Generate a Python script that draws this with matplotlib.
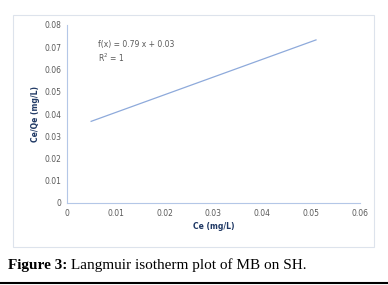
import matplotlib.pyplot as plt
from matplotlib.patches import Rectangle

# data
ce = [0.005, 0.051]
ce_qe = [0.0367, 0.0733]
x_ticks = [0, 0.01, 0.02, 0.03, 0.04, 0.05, 0.06]
y_ticks = [0, 0.01, 0.02, 0.03, 0.04, 0.05, 0.06, 0.07, 0.08]
x_tick_labels = ['0', '0.01', '0.02', '0.03', '0.04', '0.05', '0.06']
y_tick_labels = ['0', '0.01', '0.02', '0.03', '0.04', '0.05', '0.06', '0.07', '0.08']

W, H = 388, 285
fig = plt.figure(figsize=(W / 100, H / 100), dpi=100)
fig.patch.set_facecolor('white')

# chart frame (behind the axes)
frame = Rectangle((13 / W, 1 - 247 / H), 361 / W, 232 / H,
                  transform=fig.transFigure, facecolor='none',
                  edgecolor='#dde3ec', linewidth=0.8, zorder=-5)
fig.add_artist(frame)

ax = fig.add_axes([66.7 / W, 1 - 203 / H, 293.3 / W, 178 / H])
ax.set_facecolor('none')
ax.plot(ce, ce_qe, color='#8eaadb', linewidth=0.9)

ax.set_xlim(0, 0.06)
ax.set_ylim(0, 0.08)
ax.set_xticks(x_ticks)
ax.set_xticklabels(x_tick_labels)
ax.set_yticks(y_ticks)
ax.set_yticklabels(y_tick_labels)
ax.tick_params(length=0, labelsize=5.5, labelcolor='#595959', pad=4)

for s in ['top', 'right']:
    ax.spines[s].set_visible(False)
for s in ['left', 'bottom']:
    ax.spines[s].set_color('#b4c7e7')
    ax.spines[s].set_linewidth(0.8)

ax.set_xlabel('Ce (mg/L)', fontsize=5.5, color='#1f3864', fontweight='bold', labelpad=3)
ax.set_ylabel('Ce/Qe (mg/L)', fontsize=5.5, color='#1f3864', fontweight='bold', labelpad=3)

ax.text(0.0065, 0.0679, 'f(x) = 0.79 x + 0.03\nR$^2$ = 1', fontsize=5.5,
        color='#595959', va='center', linespacing=1.3)

cap1 = fig.text(8 / W, 1 - 265 / H, 'Figure 3:', fontsize=11, fontweight='bold',
                family='Liberation Serif', va='center', ha='left')
fig.add_artist(plt.Annotation(' Langmuir isotherm plot of MB on SH.', xy=(1, 0),
                              xycoords=cap1, va='bottom', ha='left', fontsize=11,
                              family='Liberation Serif'))

fig.add_artist(plt.Line2D([0, 1], [1 - 283 / H, 1 - 283 / H], color='black',
                          linewidth=1.5, transform=fig.transFigure))

fig.savefig('out.png', dpi=100)
